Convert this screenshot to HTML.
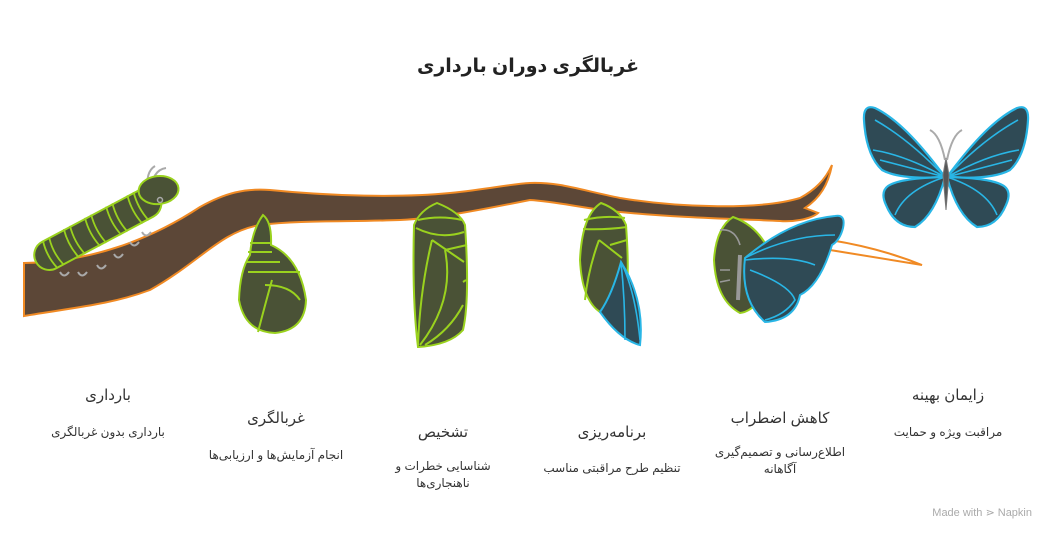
<!DOCTYPE html>
<html><head><meta charset="utf-8"><style>
body{margin:0;width:1056px;height:540px;background:#fff;overflow:hidden;font-family:"Liberation Sans","Noto Sans CJK SC",sans-serif}
</style></head><body>
<svg width="1056" height="540" viewBox="0 0 1056 540" xmlns="http://www.w3.org/2000/svg" font-family="Liberation Sans, DejaVu Sans, sans-serif">
<text x="528" y="72" text-anchor="middle" font-size="19" font-weight="bold" fill="#222">غربالگری دوران بارداری</text>
<!-- twig -->
<path d="M830,240 Q880,248 922,265 Q880,258 830,250 Z" fill="#fff" stroke="#f08a24" stroke-width="2"/>
<!-- branch -->
<path d="M24,263 C90,262 150,240 200,207 C225,193 245,188 270,190 C330,196 400,198 450,193 C490,189 510,184 530,183 C560,182 580,190 620,198 C680,208 760,210 800,198 C815,190 825,180 832,165 C828,185 820,198 805,208 L818,213 C810,220 790,222 780,221 C740,219 680,218 620,212 C580,208 560,202 530,200 C480,210 440,218 400,220 C350,222 300,220 260,225 C220,232 200,262 150,290 C110,305 70,308 24,316 Z" fill="#5c4737" stroke="#f08a24" stroke-width="2"/>
<!-- caterpillar -->
<g stroke="#a9a9a9" stroke-width="2" fill="none">
<path d="M148,192 Q145,172 155,166"/><path d="M151,192 Q152,170 166,168"/>
<path d="M60,272 q4,7 9,0"/><path d="M78,272 q4,7 9,0"/><path d="M97,265 q4,7 9,0"/><path d="M114,254 q4,7 9,0"/><path d="M130,242 q4,7 9,0"/><path d="M142,232 q4,7 9,0"/>
</g>
<g transform="translate(36,262) rotate(-28)">
<g fill="#4a5236" stroke="#9ad21e" stroke-width="2">
<rect x="0" y="-15" width="140" height="30" rx="15"/>
<ellipse cx="142" cy="-6" rx="20" ry="14" transform="rotate(22 142 -6)"/>
</g>
<g fill="none" stroke="#9ad21e" stroke-width="1.8">
<path d="M16,-15 Q12,0 16,15 M23,-15 Q19,0 23,15 M40,-16 Q36,0 40,16 M47,-16 Q43,0 47,16 M64,-16 Q60,0 64,16 M71,-16 Q67,0 71,16 M88,-16 Q84,0 88,16 M95,-16 Q91,0 95,16 M112,-16 Q108,0 112,16 M119,-16 Q115,0 119,16"/>
</g>
</g>
<circle cx="160" cy="200" r="2.5" fill="none" stroke="#aaa" stroke-width="1.5"/>
<!-- pupa 1 -->
<g fill="#4a5236" stroke="#9ad21e" stroke-width="2">
<path d="M263,215 Q272,222 271,245 Q300,258 306,300 Q305,330 275,333 Q245,332 239,300 Q240,270 250,255 Q252,230 263,215 Z"/>
<path d="M250,243 L270,243 M248,252 L272,252 M246,262 L280,262 M248,272 L300,272 M265,285 Q290,285 300,300 M272,280 Q265,305 258,332" fill="none"/>
</g>
<!-- pupa 2 -->
<g fill="#4a5236" stroke="#9ad21e" stroke-width="2">
<path d="M437,203 Q460,212 465,225 Q470,300 463,330 Q450,345 418,347 Q412,300 414,225 Q420,210 437,203 Z"/>
<path d="M418,220 Q440,215 462,220 M416,228 Q440,240 464,232 M432,240 Q420,290 418,345 M432,240 L464,262 M445,250 L467,245 M445,250 Q455,300 420,345 M463,282 L466,280 M463,305 Q450,330 425,345" fill="none"/>
</g>
<!-- pupa 3 -->
<g fill="#4a5236" stroke="#9ad21e" stroke-width="2">
<path d="M601,203 Q620,210 626,225 Q630,280 625,300 L600,312 Q582,300 580,260 Q582,215 601,203 Z"/>
<path d="M584,220 Q605,215 625,218 M583,229 Q605,230 627,227 M599,240 Q588,270 585,300 M599,240 L622,258 M610,245 L627,240" fill="none"/>
</g>
<path d="M621,262 Q645,300 640,345 Q620,340 600,312 Q612,295 621,262 Z" fill="#2f4a55" stroke="#29b6e6" stroke-width="2"/>
<path d="M621,262 Q625,300 625,340 M621,262 Q635,290 640,340" fill="none" stroke="#29b6e6" stroke-width="1.6"/>
<!-- pupa 4 + emerging butterfly -->
<g fill="#4a5236" stroke="#9ad21e" stroke-width="2">
<path d="M733,217 Q755,225 766,245 L760,300 Q750,312 740,313 Q716,300 714,260 Q716,228 733,217 Z"/>
</g>
<path d="M740,255 L738,300" stroke="#999" stroke-width="4"/>
<path d="M720,230 Q735,228 740,245 M730,270 L720,270 M730,280 L720,282" stroke="#999" stroke-width="1.6" fill="none"/>
<path d="M745,258 Q790,220 835,216 Q846,214 843,228 Q840,240 832,245 Q820,285 800,295 Q795,320 765,322 Q740,300 745,258 Z" fill="#2f4a55" stroke="#29b6e6" stroke-width="2"/>
<path d="M745,258 Q790,235 835,235 M745,260 Q790,255 815,265 M750,270 Q790,285 795,300 Q785,315 765,320" fill="none" stroke="#29b6e6" stroke-width="1.6"/>
<!-- butterfly -->
<g fill="#2f4a55" stroke="#29b6e6" stroke-width="2.2">
<path d="M945,177 C925,150 900,120 875,108 Q863,104 864,120 Q866,155 882,170 Q900,180 945,177 Z"/>
<path d="M945,177 Q900,178 888,186 Q880,192 886,205 Q895,227 915,227 Q935,215 945,177 Z"/>
<path d="M947,177 C967,150 992,120 1017,108 Q1029,104 1028,120 Q1026,155 1010,170 Q992,180 947,177 Z"/>
<path d="M947,177 Q992,178 1004,186 Q1012,192 1006,205 Q997,227 977,227 Q957,215 947,177 Z"/>
</g>
<g fill="none" stroke="#29b6e6" stroke-width="1.6">
<path d="M945,177 Q910,140 875,120 M945,177 Q905,155 873,150 M945,177 L880,160 M945,177 Q905,190 895,215"/>
<path d="M947,177 Q982,140 1018,120 M947,177 Q987,155 1019,150 M947,177 L1012,160 M947,177 Q987,190 997,215"/>
</g>
<path d="M946,158 L943,175 L946,210 L949,175 Z" fill="#555" stroke="#777"/>
<path d="M945,160 Q940,135 930,130 M947,160 Q952,135 962,130" fill="none" stroke="#aaa" stroke-width="2"/>
<g text-anchor="middle" fill="#333">
<text x="108" y="400" font-size="15">بارداری</text>
<text x="108" y="436" font-size="12">بارداری بدون غربالگری</text>
<text x="276" y="423" font-size="15">غربالگری</text>
<text x="276" y="459" font-size="12">انجام آزمایش‌ها و ارزیابی‌ها</text>
<text x="443" y="437" font-size="15">تشخیص</text>
<text x="443" y="470" font-size="12">شناسایی خطرات و</text>
<text x="443" y="487" font-size="12">ناهنجاری‌ها</text>
<text x="612" y="437" font-size="15">برنامه‌ریزی</text>
<text x="612" y="472" font-size="12">تنظیم طرح مراقبتی مناسب</text>
<text x="780" y="423" font-size="15">کاهش اضطراب</text>
<text x="780" y="456" font-size="12">اطلاع‌رسانی و تصمیم‌گیری</text>
<text x="780" y="473" font-size="12">آگاهانه</text>
<text x="948" y="400" font-size="15">زایمان بهینه</text>
<text x="948" y="436" font-size="12">مراقبت ویژه و حمایت</text>
</g>
<text x="1032" y="516" text-anchor="end" font-size="11" fill="#aaa">Made with ⋗ Napkin</text>
</svg>
</body></html>
